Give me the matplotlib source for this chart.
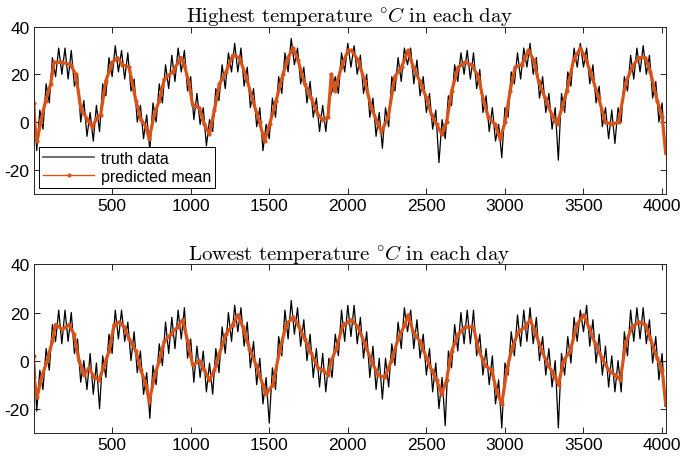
import numpy as np
import matplotlib.pyplot as plt

plt.rcParams['mathtext.fontset'] = 'cm'
plt.rcParams['font.family'] = ['Liberation Sans', 'DejaVu Sans']
plt.rcParams['axes.unicode_minus'] = False

# truth data read every 20 days (day 1, 21, 41, ...)
truth_days = np.arange(1, 4030, 20)

truth_high = [
    15, -12, 5, -3, 16, 8, 27, 19, 31, 20,
    31, 18, 30, 15, 20, 0, 9, -6, 4, -8,
    7, -4, 16, 11, 27, 19, 32, 21, 30, 18,
    29, 13, 18, 0, 7, -7, 3, -12, 8, 0,
    16, 8, 24, 14, 28, 17, 31, 21, 30, 13,
    19, 1, 12, -1, 6, -10, 1, -4, 14, 9,
    24, 14, 29, 21, 33, 21, 31, 15, 23, 6,
    14, -2, 6, -12, -1, -7, 10, 2, 19, 12,
    29, 21, 35, 24, 31, 16, 23, 8, 17, 2,
    10, -4, 7, -4, 9, 13, 19, 12, 29, 21,
    33, 23, 32, 20, 28, 12, 20, 2, 10, -6,
    4, -11, 6, -2, 19, 13, 27, 17, 31, 24,
    31, 16, 26, 11, 19, 4, 12, -3, 5, -17,
    1, -7, 11, 7, 24, 17, 29, 20, 30, 18,
    29, 14, 22, 4, 11, -4, 6, -8, -1, -15,
    6, 2, 21, 16, 29, 18, 31, 23, 33, 20,
    27, 10, 19, 4, 12, -3, 6, -16, 12, 4,
    21, 15, 31, 23, 33, 23, 31, 16, 24, 8,
    15, -2, 6, -7, 5, -9, 6, 0, 19, 13,
    28, 18, 31, 21, 32, 20, 28, 10, 17, 0,
    8, -13,
]

truth_low = [
    8, -21, -4, -12, 5, -4, 15, 8, 21, 7,
    21, 8, 20, 3, 9, -9, 0, -12, 3, -14,
    -1, -20, 2, -7, 11, 3, 21, 9, 21, 8,
    16, 0, 12, -5, 4, -14, -5, -24, -2, -10,
    7, -2, 16, 3, 18, 5, 21, 9, 22, 1,
    9, -9, 6, -7, 4, -13, -1, -14, 5, -5,
    14, 3, 20, 8, 23, 12, 22, 6, 16, -3,
    8, -10, 1, -18, -7, -26, -3, -12, 10, 2,
    21, 9, 25, 11, 22, 6, 17, 0, 11, -7,
    5, -11, 3, -13, 1, -7, 11, 2, 21, 8,
    23, 10, 23, 7, 18, 1, 12, -7, 6, -12,
    1, -16, 1, -11, 7, -2, 16, 5, 22, 12,
    21, 5, 17, 1, 11, -6, 5, -13, -1, -20,
    -7, -27, 4, -3, 15, 4, 20, 7, 21, 7,
    21, 2, 11, -6, 5, -10, 2, -18, -8, -28,
    -1, -6, 12, 2, 19, 6, 21, 8, 22, 7,
    18, 0, 10, -6, 5, -11, 0, -28, 3, -6,
    10, -1, 18, 8, 21, 12, 23, 6, 17, -1,
    11, -6, 6, -11, 2, -13, 0, -13, 12, 2,
    21, 8, 22, 9, 22, 7, 17, -1, 10, -8,
    3, -19,
]

# predicted mean
pred_days_high = [1, 14, 24, 46, 78, 110, 131, 184, 237, 269, 301, 344, 375, 407,
                  428, 460, 503, 535, 567, 609, 652, 684, 716, 737, 769, 801, 833,
                  886, 939, 960, 992, 1013, 1056, 1088, 1120, 1152, 1184, 1226,
                  1269, 1311, 1354, 1396, 1439, 1471, 1503, 1545, 1588, 1620, 1652,
                  1684, 1726, 1769, 1811, 1843, 1875, 1896, 1917, 1960, 2002, 2024,
                  2066, 2109, 2151, 2194, 2215, 2258, 2300, 2343, 2385, 2417, 2460,
                  2502, 2534, 2566, 2598, 2630, 2662, 2704, 2747, 2789, 2832, 2864,
                  2896, 2938, 2970, 3002, 3034, 3066, 3108, 3151, 3183, 3215, 3257,
                  3300, 3332, 3364, 3395, 3438, 3481, 3513, 3555, 3598, 3640, 3683,
                  3725, 3768, 3810, 3853, 3895, 3927, 3970, 4002, 4024]
pred_high = [8, -5, -8, 0, 9, 16, 25, 25, 24, 20, 6, 1, -2, 2,
             3, 17, 25, 27, 24, 23, 9, 1, -2, -7, 3, 9, 18,
             21, 27, 24, 16, 7, 6, -1, -5, 5, 16, 21,
             28, 27, 19, 9, 0, -8, -1, 9, 20, 27, 31,
             26, 16, 10, 3, 1, 2, 20, 13, 23, 30, 30,
             26, 17, 6, -1, -4, 2, 19, 23, 30, 23, 17,
             10, 3, -1, -5, 0, 13, 23, 25, 24, 19, 9,
             2, -1, -7, 0, 13, 23, 24, 30, 26, 17, 10,
             3, -1, 6, 13, 26, 31, 27, 19, 10, 0, -1,
             0, 16, 23, 27, 27, 21, 9, 2, -13]

pred_days_low = [1, 3, 24, 56, 88, 120, 141, 184, 227, 258, 290, 322, 354, 386,
                 418, 450, 482, 514, 546, 578, 609, 652, 684, 716, 737, 769, 801,
                 833, 875, 918, 950, 982, 1014, 1056, 1088, 1120, 1152, 1184, 1226,
                 1269, 1301, 1333, 1375, 1418, 1460, 1481, 1524, 1567, 1609, 1652,
                 1684, 1726, 1769, 1811, 1843, 1875, 1896, 1928, 1971, 2002, 2024,
                 2066, 2109, 2151, 2194, 2236, 2279, 2321, 2364, 2385, 2417, 2460,
                 2502, 2534, 2566, 2598, 2630, 2662, 2704, 2747, 2800, 2832, 2874,
                 2917, 2949, 2981, 3013, 3045, 3087, 3130, 3161, 3193, 3236, 3278,
                 3321, 3342, 3374, 3417, 3459, 3502, 3534, 3576, 3619, 3661, 3704,
                 3736, 3768, 3810, 3853, 3895, 3927, 3970, 4002, 4024]
pred_low = [2, -7, -15, -6, 0, 8, 15, 13, 15, 11, 0, -6, -3, -7,
            -8, -2, 4, 15, 16, 14, 9, 4, -4, -10, -17, -7, 0,
            8, 11, 14, 17, 8, -2, 0, -4, -8, -4, 3, 11,
            15, 19, 14, 5, -2, -10, -14, -10, 4, 15, 18,
            15, 9, 3, -3, -4, -6, 0, 5, 15, 16, 17,
            14, 7, 0, -6, -7, 0, 9, 15, 19, 12, 8,
            1, -4, -8, -14, -8, 4, 11, 14, 14, 5, -2,
            -4, -13, -18, -4, 5, 12, 14, 17, 12, 4, -2,
            -7, -10, 0, 4, 15, 19, 14, 7, 1, -4, -6,
            -8, 7, 14, 16, 15, 9, 1, -4, -18]

titles = [r'$\mathrm{Highest\ temperature\ }^{\circ}C\mathrm{\ in\ each\ day}$',
          r'$\mathrm{Lowest\ temperature\ }^{\circ}C\mathrm{\ in\ each\ day}$']

fig = plt.figure(figsize=(6.85, 4.6), dpi=100)
ax1 = fig.add_axes([0.049, 0.577, 0.923, 0.363])
ax2 = fig.add_axes([0.049, 0.057, 0.923, 0.366])

orange = '#D95319'
panels = [(ax1, truth_high, pred_days_high, pred_high),
          (ax2, truth_low, pred_days_low, pred_low)]

for i, (ax, truth, pdays, pred) in enumerate(panels):
    ax.plot(truth_days, truth, color='black', lw=0.9, label='truth data')
    ax.plot(pdays, pred, color=orange, lw=2.3, marker='.', ms=4,
            label='predicted mean')
    ax.set_xlim(1, 4025)
    ax.set_ylim(-30, 40)
    ax.set_xticks(np.arange(500, 4001, 500))
    ax.set_yticks([-20, 0, 20, 40])
    ax.tick_params(direction='in', top=True, right=True, length=4,
                   width=0.6, labelsize=12.5, pad=3)
    for s in ax.spines.values():
        s.set_linewidth(0.7)
        s.set_color('#262626')
    ax.set_title(titles[i], fontsize=15, pad=4)

leg = ax1.legend(loc='lower left', fontsize=11.5, frameon=True, fancybox=False,
                 borderaxespad=0.35, handlelength=3.2, borderpad=0.25,
                 labelspacing=0.2, handletextpad=0.4)
leg.get_frame().set_edgecolor('black')
leg.get_frame().set_linewidth(0.7)
leg.get_frame().set_alpha(1)
leg.get_lines()[0].set_color('#555555')
leg.get_lines()[0].set_linewidth(1.2)
leg.get_lines()[1].set_linewidth(1.0)

fig.savefig('out.png', dpi=100)
